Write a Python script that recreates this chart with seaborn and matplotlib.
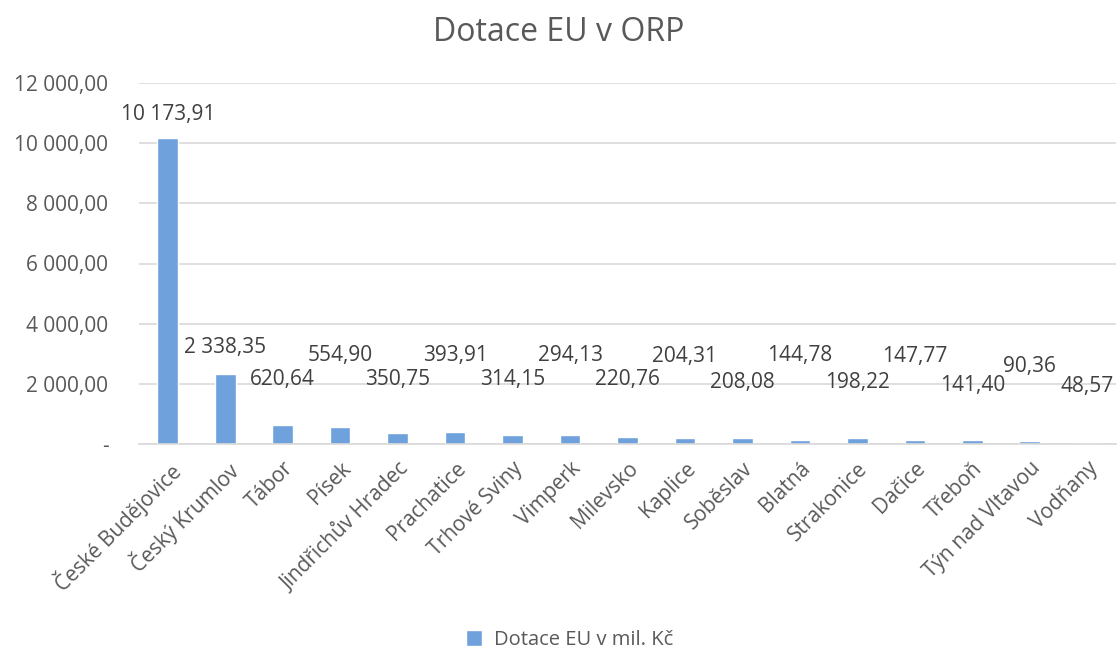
import numpy as np
import pandas as pd
import matplotlib
matplotlib.use('Agg')
import matplotlib.pyplot as plt
import seaborn as sns

# ── Data ───────────────────────────────────────────────────
orp = ['České Budějovice', 'Český Krumlov', 'Tábor', 'Písek', 'Jindřichův Hradec',
       'Prachatice', 'Trhové Sviny', 'Vimperk', 'Milevsko', 'Kaplice', 'Soběslav',
       'Blatná', 'Strakonice', 'Dačice', 'Třeboň', 'Týn nad Vltavou', 'Vodňany']
dotace = [10173.91, 2338.35, 620.64, 554.90, 350.75,
          393.91, 314.15, 294.13, 220.76, 204.31, 208.08,
          144.78, 198.22, 147.77, 141.40, 90.36, 48.57]
yticks = [0, 2000, 4000, 6000, 8000, 10000, 12000]

# label heights (data units) as placed in the original chart
label_y = [10950, 3200, 2130, 2950, 2130, 2950, 2130, 2950, 2130,
           2900, 2030, 2950, 2030, 2900, 1960, 2560, 1900]

def cz(v):
    s = f"{v:,.2f}"
    return s.replace(',', ' ').replace('.', ',')

df = pd.DataFrame({'ORP': orp, 'Dotace': dotace})

sns.set_theme(style='white')
plt.rcParams['font.family'] = ['Open Sans', 'DejaVu Sans']
text_c = '#595959'
bar_c = '#6FA1DC'

fig = plt.figure(figsize=(11.18, 6.52), dpi=100)
ax = fig.add_axes([139/1118, 1-444/652, (1116-139)/1118, (444-83)/652])

sns.barplot(data=df, x='ORP', y='Dotace', color=bar_c, width=0.36, ax=ax,
            saturation=1, label='Dotace EU v mil. Kč')

for i, (v, ly) in enumerate(zip(dotace, label_y)):
    ax.text(i, ly, cz(v), ha='center', va='center', fontsize=15, color='#404040')

ax.set_ylim(0, 12000)
ax.set_xlim(-0.5, len(orp) - 0.5)
ax.set_yticks(yticks)
ax.set_yticklabels(['-' if t == 0 else cz(t) for t in yticks], fontsize=15, color=text_c)
ax.set_xticks(range(len(orp)))
ax.set_xticklabels(orp, rotation=45, ha='right', rotation_mode='anchor',
                   fontsize=15, color=text_c)
ax.tick_params(axis='y', length=0, pad=22)
ax.tick_params(axis='x', length=0, pad=10)
ax.set_xlabel('')
ax.set_ylabel('')
ax.yaxis.grid(True, color='#D9D9D9', linewidth=1.2)
ax.set_axisbelow(True)
for s in ['top', 'right', 'left']:
    ax.spines[s].set_visible(False)
ax.spines['bottom'].set_color('#D9D9D9')
ax.spines['bottom'].set_linewidth(1.2)

fig.suptitle('Dotace EU v ORP', fontsize=23, color=text_c, y=0.975)

ax.legend(loc='center', bbox_to_anchor=(570/1118, 1-640/652), bbox_transform=fig.transFigure,
          frameon=False, fontsize=14.5, handlelength=0.8, handleheight=0.8,
          handletextpad=0.6, labelcolor=text_c)

fig.savefig('out.png', dpi=100)
